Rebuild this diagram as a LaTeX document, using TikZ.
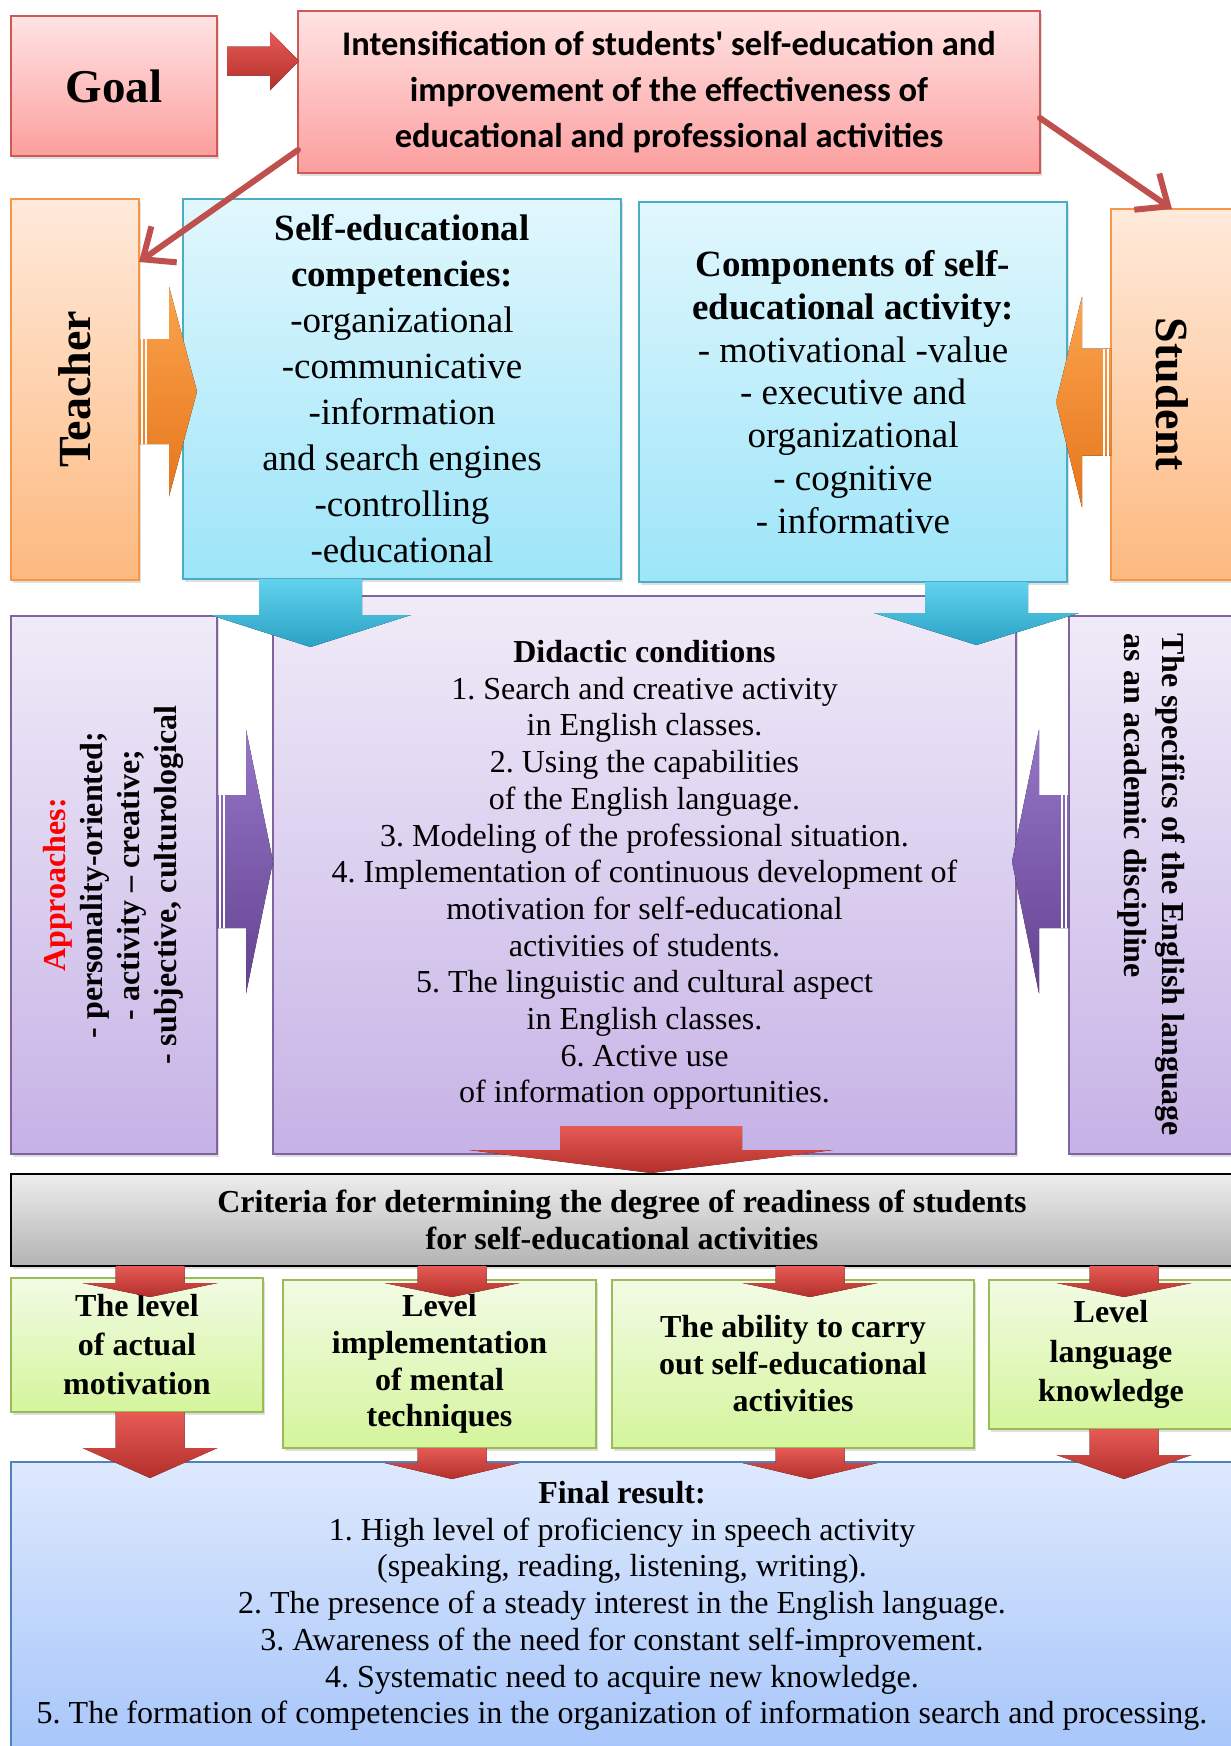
\documentclass[tikz,border=0pt]{standalone}
\usepackage{fontspec}
\setmainfont{Liberation Serif}
\newfontfamily\calibri{Carlito}
\usepackage{graphicx}
\usetikzlibrary{arrows.meta}
\usetikzlibrary{shadows}
\frenchspacing

\definecolor{goaltop}{HTML}{FFE3E3}
\definecolor{goalbot}{HTML}{FC9E9E}
\definecolor{goalline}{HTML}{CD5A57}
\definecolor{roletop}{HTML}{FFEADB}
\definecolor{rolebot}{HTML}{FDB97F}
\definecolor{roleline}{HTML}{F79646}
\definecolor{skytop}{HTML}{E1F7FD}
\definecolor{skybot}{HTML}{9DE5F9}
\definecolor{skyline}{HTML}{4BACC6}
\definecolor{lilactop}{HTML}{F0EBF8}
\definecolor{lilacbot}{HTML}{C6B2E6}
\definecolor{lilacline}{HTML}{8064A2}
\definecolor{greytop}{HTML}{EDEDED}
\definecolor{greybot}{HTML}{B3B3B3}
\definecolor{limetop}{HTML}{F2FBE4}
\definecolor{limebot}{HTML}{D4F59C}
\definecolor{limeline}{HTML}{9BBB59}
\definecolor{resulttop}{HTML}{DEE9FD}
\definecolor{resultbot}{HTML}{A7C6FA}
\definecolor{resultline}{HTML}{4F81BD}
\definecolor{linkred}{HTML}{C0504D}
\definecolor{redtop}{HTML}{E65A55}
\definecolor{redbot}{HTML}{B32F2B}
\definecolor{orangetop}{HTML}{FBA44E}
\definecolor{orangebot}{HTML}{E6761C}
\definecolor{bluetop}{HTML}{62D2EE}
\definecolor{bluebot}{HTML}{2AA2C4}
\definecolor{purpletop}{HTML}{9676C8}
\definecolor{purplebot}{HTML}{634290}

% block arrow pointing down: style, x, shaft top, head start, tip, shaft half width, head half width
\newcommand{\blockdown}[7]{%
    \fill[#1] (#2-#6,#3) -- (#2+#6,#3) -- (#2+#6,#4) -- (#2+#7,#4)
        -- (#2,#5) -- (#2-#7,#4) -- (#2-#6,#4) -- cycle;}
% block arrow pointing sideways: style, y, shaft start, head start, tip, shaft half width, head half width
\newcommand{\blockside}[7]{%
    \fill[#1] (#3,#2-#6) -- (#4,#2-#6) -- (#4,#2-#7) -- (#5,#2)
        -- (#4,#2+#7) -- (#4,#2+#6) -- (#3,#2+#6) -- cycle;}

\begin{document}
\begin{tikzpicture}[
        x=1pt, y=-1pt, >=latex,
        panel/.style={draw, line width=1.5pt, anchor=north west, inner sep=0pt,
                      outer sep=0pt, align=center,
                      drop shadow={shadow xshift=2pt, shadow yshift=-3pt, opacity=0.25}},
        goalbox/.style={panel, draw=goalline, top color=goaltop, bottom color=goalbot},
        rolebox/.style={panel, draw=roleline, top color=roletop, bottom color=rolebot,
                        font=\bfseries\fontsize{46}{50}\selectfont},
        compbox/.style={panel, draw=skyline, top color=skytop, bottom color=skybot},
        condbox/.style={panel, draw=lilacline, top color=lilactop, bottom color=lilacbot},
        critbox/.style={panel, draw=black, top color=greytop, bottom color=greybot},
        levelbox/.style={panel, draw=limeline, top color=limetop, bottom color=limebot},
        resultbox/.style={panel, draw=resultline, top color=resulttop, bottom color=resultbot},
        link/.style={draw=linkred, line width=6pt, line cap=round,
                     -{Straight Barb[length=26pt, width=44pt]}},
        redarrow/.style={top color=redtop, bottom color=redbot},
        orangearrow/.style={top color=orangetop, bottom color=orangebot},
        bluearrow/.style={top color=bluetop, bottom color=bluebot},
        purplearrow/.style={top color=purpletop, bottom color=purplebot},
    ]
    \useasboundingbox (0,0) rectangle (1231,1746);

    \node[goalbox, minimum width=206pt, minimum height=140pt,
          font=\bfseries\fontsize{47}{50}\selectfont] (goal) at (11,16) {Goal};
    \node[goalbox, minimum width=742pt, minimum height=162pt,
          font=\calibri\bfseries\fontsize{34.5}{45.6}\selectfont] (aim) at (298,11)
         {Intensification of students\char39{} self-education and\\
          improvement of the effectiveness of\\
          educational and professional activities};

    \node[rolebox, minimum width=128pt, minimum height=381pt] (teacher) at (11,199)
         {\rotatebox{90}{Teacher}};
    \node[rolebox, minimum width=122pt, minimum height=371pt] (student) at (1111,209)
         {\rotatebox{-90}{Student}};

    \node[compbox, minimum width=438pt, minimum height=380pt,
          font=\fontsize{37}{46}\selectfont] (skills) at (183,199)
         {\textbf{Self-educational}\\ \textbf{competencies:}\\ -organizational\\
          -communicative\\ -information\\ and search engines\\ -controlling\\ -educational};
    \node[compbox, minimum width=428pt, minimum height=380pt,
          font=\fontsize{37}{42.8}\selectfont] (parts) at (639,202)
         {\textbf{Components of self-}\\ \textbf{educational activity:}\\
          - motivational -value\\ - executive and\\ organizational\\ - cognitive\\ - informative};

    \node[condbox, minimum width=206pt, minimum height=538pt,
          font=\bfseries\fontsize{32}{37}\selectfont] (approach) at (11,616)
         {\rotatebox{90}{\begin{tabular}{@{}c@{}}\textcolor{red}{Approaches:}\\
          - personality-oriented;\\ - activity – creative;\\
          - subjective, culturological\end{tabular}}};
    \node[condbox, minimum width=743pt, minimum height=558pt,
          font=\fontsize{32}{36.7}\selectfont] (didactic) at (273,596)
         {\textbf{Didactic conditions}\\
          1. Search and creative activity\\ in English classes.\\
          2. Using the capabilities\\ of the English language.\\
          3. Modeling of the professional situation.\\
          4. Implementation of continuous development of\\
          motivation for self-educational\\ activities of students.\\
          5. The linguistic and cultural aspect\\ in English classes.\\
          6. Active use\\ of information opportunities.};
    \node[condbox, minimum width=164pt, minimum height=538pt,
          font=\bfseries\fontsize{32}{38}\selectfont] (specifics) at (1069,616)
         {\rotatebox{-90}{\begin{tabular}{@{}l@{}}The specifics of the English language\\
          as an academic discipline\end{tabular}}};

    \node[critbox, minimum width=1222pt, minimum height=92pt,
          font=\bfseries\fontsize{32}{37}\selectfont] (criteria) at (11,1174)
         {Criteria for determining the degree of readiness of students\\
          for self-educational activities};

    \node[levelbox, minimum width=252pt, minimum height=134pt,
          font=\bfseries\fontsize{32}{39}\selectfont] (motive) at (11,1278)
         {The level\\ of actual\\ motivation};
    \node[levelbox, minimum width=313pt, minimum height=168pt,
          font=\bfseries\fontsize{32}{36.7}\selectfont] (mental) at (283,1280)
         {Level\\ implementation\\ of mental\\ techniques};
    \node[levelbox, minimum width=362pt, minimum height=168pt,
          font=\bfseries\fontsize{32}{37}\selectfont] (ability) at (612,1280)
         {The ability to carry\\ out self-educational\\ activities};
    \node[levelbox, minimum width=244pt, minimum height=149pt,
          font=\bfseries\fontsize{32}{39.5}\selectfont] (knowledge) at (989,1280)
         {Level\\ language\\ knowledge};

    \node[resultbox, minimum width=1222pt, minimum height=288pt,
          font=\fontsize{32}{36.7}\selectfont] (result) at (11,1462)
         {\textbf{Final result:}\\
          1. High level of proficiency in speech activity\\
          (speaking, reading, listening, writing).\\
          2. The presence of a steady interest in the English language.\\
          3. Awareness of the need for constant self-improvement.\\
          4. Systematic need to acquire new knowledge.\\
          5. The formation of competencies in the organization of information search and processing.};

    % thin arrows from the goal
    \draw[link] ([yshift=23pt]aim.south west) -- ([yshift=-63pt]teacher.north east);
    \draw[link] ([yshift=55pt]aim.south east) -- (student.north);

    % block arrows
    \blockside{redarrow}{61}{227}{270}{299}{14.5}{29.5}
    \blockside{orangearrow}{391.5}{139}{169}{197}{52.5}{105}
    \blockside{orangearrow}{402}{1111}{1082}{1056}{53.5}{105.5}
    \blockside{purplearrow}{861.5}{217}{246}{273}{66.5}{132}
    \blockside{purplearrow}{861.5}{1069}{1039}{1012}{66.5}{132}
    \foreach \xa/\ym/\hw in {142/391.5/52.5, 146/391.5/52.5, 1108/402/53.5, 1104/402/53.5,
                             220/861.5/66.5, 224/861.5/66.5, 1066/861.5/66.5, 1062/861.5/66.5}
        \draw[white, line width=1.4pt] (\xa,\ym-\hw) -- (\xa,\ym+\hw);

    \blockdown{bluearrow}{310.5}{579}{615}{647}{51.5}{100.5}
    \blockdown{bluearrow}{976.5}{582}{613}{645}{51.5}{102.5}
    \blockdown{redarrow}{651}{1126}{1150}{1173}{91}{182}

    \foreach \x in {150, 452, 810, 1124}
        {\blockdown{redarrow}{\x}{1266}{1283}{1297}{34.5}{67.5}}
    \blockdown{redarrow}{150}{1412}{1448}{1478}{34.5}{67.5}
    \blockdown{redarrow}{452}{1448}{1463}{1479}{34.5}{67.5}
    \blockdown{redarrow}{810}{1448}{1463}{1479}{34.5}{67.5}
    \blockdown{redarrow}{1124}{1429}{1455}{1479}{34.5}{67.5}

\end{tikzpicture}
\end{document}
